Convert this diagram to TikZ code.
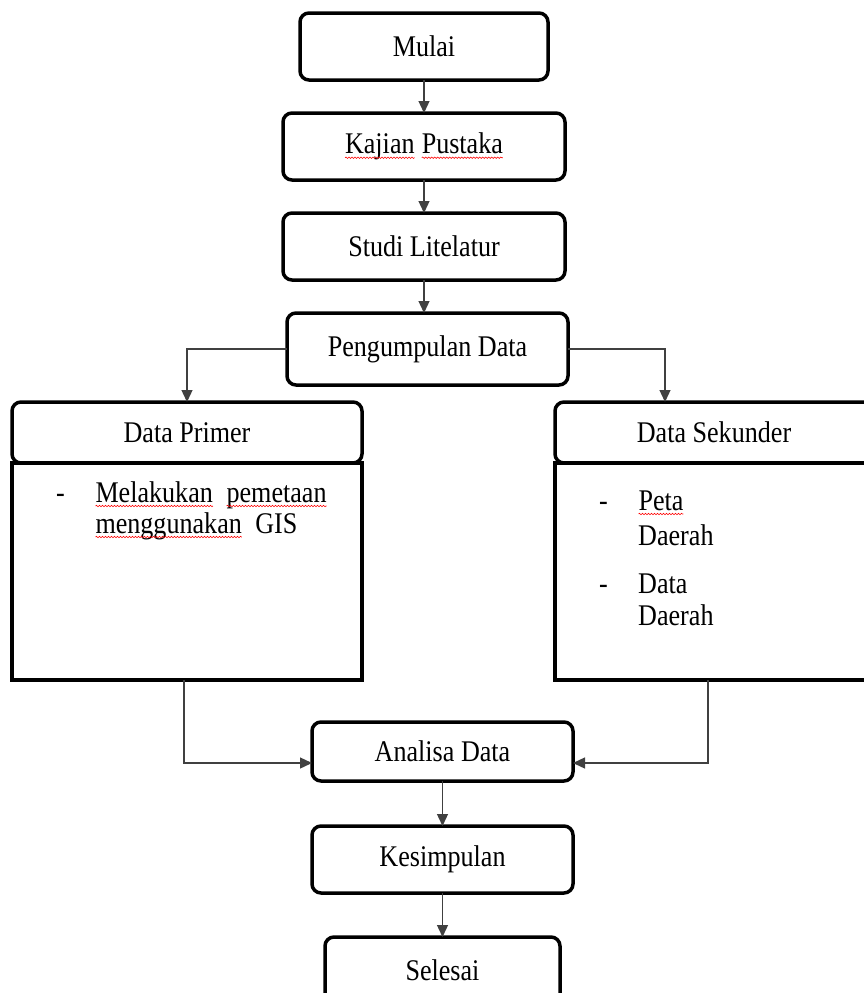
\documentclass[tikz,border=0pt]{standalone}
\usepackage{fontspec}
\setmainfont[FakeStretch=0.87]{Liberation Serif}
\usetikzlibrary{arrows.meta, positioning, decorations.pathmorphing}
\newcommand{\salah}[1]{\tikz[baseline=(w.base)]{\node[inner sep=0pt, outer sep=0pt, minimum width=0pt, minimum height=0pt, draw=none] (w) {#1}; \draw[red, line width=0.6pt, sharp corners, decorate, decoration={snake, amplitude=0.7pt, segment length=3pt}] ([yshift=-4pt]w.base west) -- ([yshift=-4pt]w.base east);}}
\tikzset{kotak/.style={draw, line width=3.5pt, rounded corners=9pt, outer sep=0pt, minimum height=67pt, font=\fontsize{30}{34}\selectfont},isi/.style={draw, line width=3.5pt, outer sep=0pt}}

\begin{document}
\begin{tikzpicture}[
        x=1pt, y=-1pt,
        kepala/.style={kotak, minimum height=61pt},
        panah/.style={draw=black!75, line width=1.3pt, -{Triangle[length=12pt, width=11pt]}},
        teks/.style={anchor=base west, inner sep=0pt, font=\fontsize{30}{34}\selectfont}
    ]
        \useasboundingbox (0,0) rectangle (864,993);
        \clip (0,0) rectangle (864,993);
        % Main steps
        \node[kotak, minimum width=248pt] (mulai) at (424,46.5) {Mulai};
        \node[kotak, minimum width=282pt] (kajian) at (424,146.5) {\salah{Kajian} \salah{Pustaka}};
        \node[kotak, minimum width=282pt] (studi) at (424,246.5) {Studi Litelatur};
        \node[kotak, minimum width=281pt, minimum height=72pt] (kumpul) at (427.5,349) {Pengumpulan Data};
        % Data boxes
        \node[kepala, minimum width=350pt] (primer) at (187,432.5) {Data Primer};
        \node[isi, minimum width=350pt, minimum height=217pt, anchor=north] (isiprimer) at (primer.south) {};
        \node[kepala, minimum width=318pt] (sekunder) at (714,432.5) {Data Sekunder};
        \node[isi, minimum width=318pt, minimum height=217pt, anchor=north] (isisekunder) at (sekunder.south) {};
        % Box contents
        \node[teks] (strip1) at (56,502) {-};
        \node[teks] (primer1) at (95,502) {\salah{Melakukan}\ \ \salah{pemetaan}};
        \node[teks] (primer2) at (95,533) {\salah{menggunakan}\ \ GIS};
        \node[teks] (strip2) at (599,510) {-};
        \node[teks] (sekunder1) at (638,510) {\salah{Peta}};
        \node[teks] (sekunder2) at (638,545) {Daerah};
        \node[teks] (strip3) at (599,593) {-};
        \node[teks] (sekunder3) at (638,593) {Data};
        \node[teks] (sekunder4) at (638,625) {Daerah};
        % Final steps
        \node[kotak, minimum width=261pt, minimum height=59pt] (analisa) at (442.5,751.5) {Analisa Data};
        \node[kotak, minimum width=261pt] (simpul) at (442.5,859.5) {Kesimpulan};
        \node[kotak, minimum width=235pt] (selesai) at (442.5,970.5) {Selesai};
        % Arrows
        \draw[panah] (mulai) -- (kajian);
        \draw[panah] (kajian) -- (studi);
        \draw[panah] (studi.south) -- (studi.south |- kumpul.north);
        \draw[panah] (kumpul.west) -| (primer.north);
        \draw[panah] (kumpul.east) -| ([xshift=-49pt]sekunder.north);
        \draw[panah] ([xshift=-3pt]isiprimer.south) |- ([yshift=-11.5pt]analisa.west);
        \draw[panah] ([xshift=-6pt]isisekunder.south) |- ([yshift=-11.5pt]analisa.east);
        \draw[panah] (analisa) -- (simpul);
        \draw[panah] (simpul) -- (selesai);
    \end{tikzpicture}
\end{document}
